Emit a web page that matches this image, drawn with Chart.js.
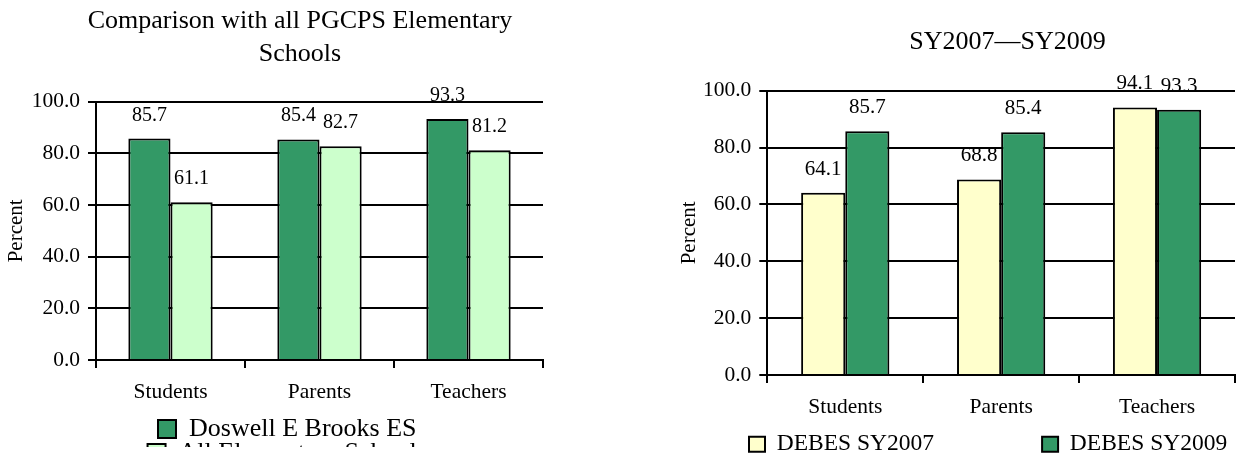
<!DOCTYPE html>
<html><head><meta charset="utf-8">
<script src="https://cdn.jsdelivr.net/npm/chart.js@4.4.1/dist/chart.umd.min.js"></script>
<style>
html,body{margin:0;padding:0;background:#fff;width:1241px;height:458px;overflow:hidden;position:relative;}
#wrapL{position:absolute;left:0;top:0;width:600px;height:447px;overflow:hidden;}
#wrapR{position:absolute;left:510px;top:0;width:731px;height:458px;overflow:hidden;}
canvas{display:block}
</style></head><body>
<div id="wrapL"><canvas id="cL" width="600" height="447"></canvas></div>
<div id="wrapR"><canvas id="cR" width="731" height="458"></canvas></div>
<script>
// ---- data ----
const categories = ['Students', 'Parents', 'Teachers'];
const doswellES = [85.7, 85.4, 93.3];
const allElementary = [61.1, 82.7, 81.2];
const debes2007 = [64.1, 68.8, 94.1];
const debes2009 = [85.7, 85.4, 93.3];
const yTickValues = [0, 20, 40, 60, 80, 100];
const leftTitle = ['Comparison with all PGCPS Elementary', 'Schools'];
const rightTitle = 'SY2007\u2014SY2009';
const leftSeriesNames = ['Doswell E Brooks ES', 'All Elementary Schools'];
const rightSeriesNames = ['DEBES SY2007', 'DEBES SY2009'];
const yAxisTitle = 'Percent';

// ---- style ----
const FONT = "'Liberation Serif', 'Times New Roman', Times, serif";
const DARK = '#339966', LIGHTG = '#CCFFCC', YELLOW = '#FFFFCC';
Chart.defaults.font.family = FONT;
Chart.defaults.color = '#000';

const valueLabels = {
  id: 'valueLabels',
  beforeDraw(chart, args, o) {
    const ctx = chart.ctx;
    ctx.save();
    ctx.font = o.size + 'px ' + FONT;
    ctx.fillStyle = '#000';
    ctx.textAlign = 'center';
    ctx.textBaseline = 'alphabetic';
    chart.data.datasets.forEach((ds, i) => {
      chart.getDatasetMeta(i).data.forEach((bar, j) => {
        ctx.fillText(ds.data[j].toFixed(1), bar.x, bar.y - o.gap);
      });
    });
    ctx.restore();
  }
};

const boxPlacer = {
  id: 'boxPlacer',
  afterLayout(chart, args, o) {
    const t = chart.titleBlock;
    if (t && o.titleLeft !== undefined) {
      t.left = o.titleLeft; t.right = o.titleRight; t.width = t.right - t.left;
    }
    const lg = chart.legend;
    if (lg && o.legendStartX !== undefined) {
      const p = lg.options.labels.padding;
      const lw0 = lg.lineWidths[0];
      lg.right = o.legendRight;
      lg.left = 2 * o.legendStartX + lw0 - p - o.legendRight;
      lg.width = lg.right - lg.left;
      lg.top = o.legendY - p;
      lg.bottom = chart.height;
      lg.height = lg.bottom - lg.top;
    }
  }
};

function makeChart(id, cfg) {
  const ds = cfg.series.map((vals, i) => ({
    label: cfg.names[i],
    data: vals,
    backgroundColor: cfg.colors[i],
    borderColor: '#000',
    borderWidth: 2,
    borderSkipped: 'start',
    categoryPercentage: 0.566,
    barPercentage: 1.0
  }));
  return new Chart(document.getElementById(id), {
    type: 'bar',
    data: { labels: categories, datasets: ds },
    plugins: [valueLabels, boxPlacer],
    options: {
      responsive: false,
      devicePixelRatio: 1,
      animation: false,
      events: [],
      layout: { padding: cfg.layoutPad },
      scales: {
        x: {
          grid: { display: true, drawOnChartArea: false, drawTicks: true, tickLength: 8, color: '#000', lineWidth: 2, offset: true },
          border: { display: true, color: '#000', width: 2 },
          ticks: { font: { size: 21.5 }, color: '#000', padding: 11, maxRotation: 0, autoSkip: false },
          afterFit: s => { s.height = 50; }
        },
        y: {
          min: 0, max: 100,
          grid: { color: '#000', lineWidth: 2, drawTicks: true, tickLength: 8 },
          border: { display: true, color: '#000', width: 2 },
          ticks: { font: { size: 21.5 }, color: '#000', padding: 8, callback: v => Number(v).toFixed(1) },
          afterBuildTicks: s => { s.ticks = yTickValues.map(v => ({ value: v })); },
          title: { display: true, text: yAxisTitle, font: { size: 21 }, color: '#000', padding: { top: cfg.yTitlePad, bottom: 0 } },
          afterFit: s => { s.width = cfg.yWidth; }
        }
      },
      plugins: {
        tooltip: { enabled: false },
        title: cfg.title,
        legend: {
          display: true,
          position: 'bottom',
          maxHeight: cfg.legendMaxH,
          labels: { font: { size: cfg.legendFont }, color: '#000', boxWidth: cfg.boxW, boxHeight: cfg.boxH, padding: cfg.legendPad }
        },
        valueLabels: { size: cfg.labelSize, gap: 18 },
        boxPlacer: cfg.place
      }
    }
  });
}

makeChart('cL', {
  series: [doswellES, allElementary],
  names: leftSeriesNames,
  colors: [DARK, LIGHTG],
  layoutPad: { left: 20, right: 57, top: 0, bottom: 0 },
  yWidth: 76,
  yTitlePad: -16.6,
  title: { display: true, text: leftTitle, color: '#000', font: { size: 26, weight: 'normal', lineHeight: 1.28 }, padding: { top: 4.5, bottom: 30.6 } },
  legendMaxH: 37,
  legendFont: 26, boxW: 18, boxH: 18, legendPad: -2,
  labelSize: 20,
  place: { titleLeft: 0, titleRight: 600, legendStartX: 158, legendRight: 600, legendY: 416 }
});

makeChart('cR', {
  series: [debes2007, debes2009],
  names: rightSeriesNames,
  colors: [YELLOW, DARK],
  layoutPad: { left: 0, right: 6, top: 0, bottom: 0 },
  yWidth: 257.3,
  yTitlePad: 166.4,
  title: { display: true, text: rightTitle, color: '#000', font: { size: 26, weight: 'normal', lineHeight: 1.2 }, padding: { top: 26.3, bottom: 33.2 } },
  legendMaxH: 33,
  legendFont: 23.5, boxW: 16, boxH: 15, legendPad: 108,
  labelSize: 21,
  place: { titleLeft: 0, titleRight: 995, legendStartX: 239, legendRight: 900, legendY: 432.4 }
});
</script>
</body></html>
